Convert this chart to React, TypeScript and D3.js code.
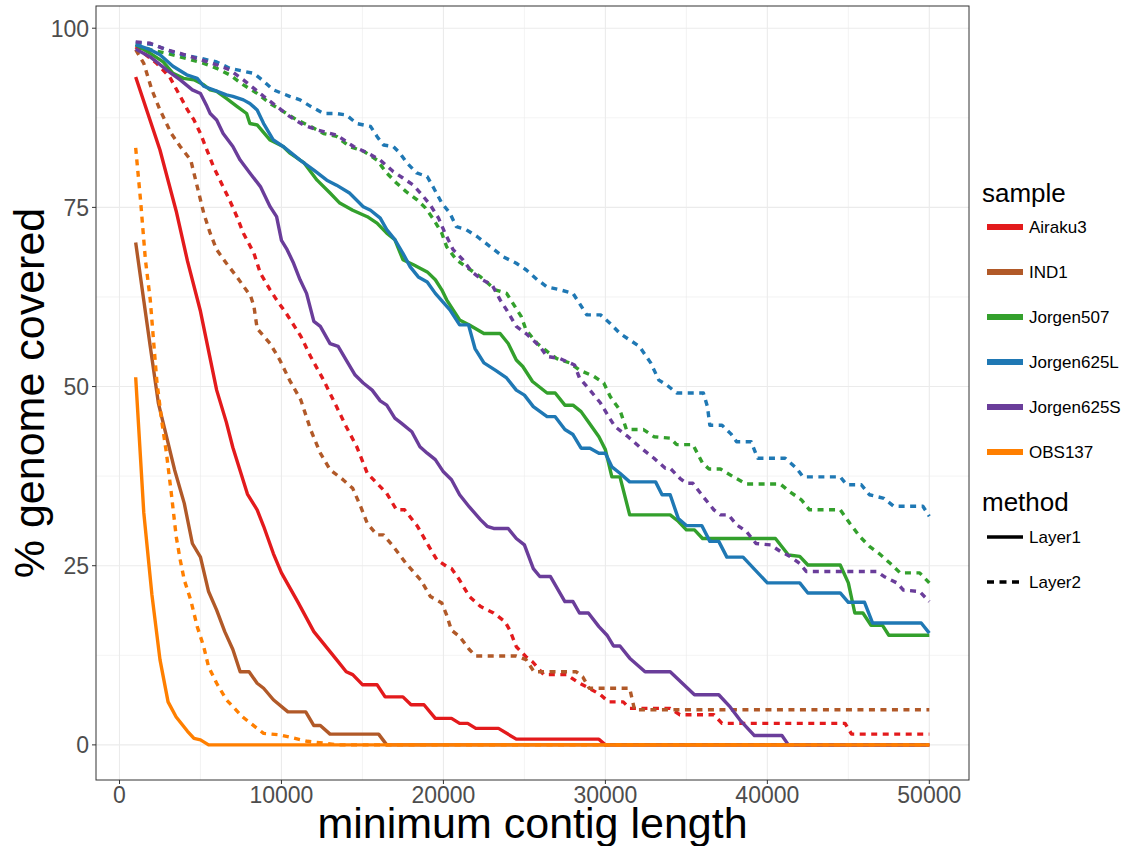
import * as React from "react";
import * as d3 from "d3";

// minimum contig length in kb, % genome covered
const airaku3Layer1 = [[1,93.2],[2.5,83],[3.5,74.5],[4.2,67.5],[5,60.5],[6,49.5],[6.6,45],[7,41.5],[7.9,35],[8.5,32.8],[8.9,30.5],[9.5,26.7],[10,24],[11,20],[12,15.8],[12.5,14.4],[13.4,11.9],[14,10.2],[14.4,9.8],[15,8.4],[15.9,8.4],[16.4,6.7],[17.5,6.7],[18,5.6],[18.8,5.6],[19.5,3.7],[20.5,3.7],[21,3],[21.5,3],[22,2.3],[23.4,2.3],[24.5,0.8],[29.6,0.8],[30,0],[50,0]];
const airaku3Layer2 = [[1,97.4],[2.3,95.1],[3.1,93.2],[3.75,90.5],[4.2,88.6],[4.6,87.2],[5,85.3],[5.4,83],[5.8,80.7],[6.2,78.8],[6.8,76],[7.25,73.7],[7.65,71.4],[8.3,68.6],[8.7,65.8],[9.3,63.5],[9.7,62.1],[10.3,60.2],[11.2,57],[11.8,54.2],[12.6,50.9],[13.4,47.2],[14,44.4],[14.65,41.6],[15.3,37.9],[15.9,36.5],[16.5,35.1],[17.1,32.8],[17.6,32.8],[18.4,30.5],[19,28.1],[19.6,25.8],[20.2,24.9],[20.5,24.6],[21,23],[21.6,20.7],[22.3,19.3],[23.1,18.4],[23.8,17.2],[24.1,16],[24.5,13.7],[25.1,12.3],[25.5,11.6],[26.2,9.8],[27.6,9.8],[28.4,8.6],[29,7.9],[29.7,7],[30.2,6],[31.1,6],[31.5,5.1],[34,5.1],[34.6,4.2],[36.7,4.2],[37.2,3],[44.8,3],[45.2,1.5],[50,1.5]];
const ind1Layer1 = [[1,70.1],[1.5,62],[1.9,55.6],[2.4,47.7],[2.8,44],[3.4,38.4],[4,33.7],[4.5,28.1],[5,26.2],[5.5,21.4],[6,18.8],[6.5,15.8],[7,13.3],[7.45,10.2],[8,10.2],[8.5,8.6],[8.9,7.9],[9.5,6.3],[10.4,4.6],[11.5,4.6],[12,2.7],[12.4,2.7],[13,1.5],[16,1.5],[16.5,0],[50,0]];
const ind1Layer2 = [[1,97],[1.5,95.1],[2,91.4],[2.5,88.6],[3.2,85.3],[3.75,83.5],[4.4,81.6],[4.8,77.9],[5.2,74.2],[5.6,71.4],[6,69.1],[6.6,67.2],[7.25,65.3],[8.1,62.6],[8.3,61.2],[8.5,58.1],[9.3,56],[9.9,53.7],[10.5,50.9],[11.2,48.1],[11.8,44],[12.4,40.7],[13,38.4],[13.8,37],[14.4,35.8],[14.9,33.2],[15.3,30.9],[15.9,29.3],[16.3,29.3],[16.9,27.7],[17.7,25.3],[18.4,23.5],[18.6,23],[19.2,20.7],[19.9,19.8],[20.2,18.1],[20.5,16],[21,15.1],[21.6,13.3],[22,12.4],[24.5,12.4],[25.1,11.9],[25.6,10.2],[28.2,10.2],[28.6,9.5],[29,7.9],[31.5,7.9],[31.8,4.9],[50,4.9]];
const jorgen507Layer1 = [[1,97.7],[1.9,96.5],[2.7,95.3],[3.3,93.7],[3.95,93],[4.6,92.8],[5.2,92.1],[5.6,91.4],[6,91.2],[6.6,90.2],[7.25,89.1],[7.85,88.1],[8.05,86.7],[8.5,86.5],[9.3,84.4],[10.1,83.5],[10.5,82.6],[11.4,81.2],[12.2,78.8],[13,77],[13.6,75.6],[14.4,74.6],[15.3,73.7],[15.9,72.8],[16.5,71.4],[17,70.5],[17.5,67.7],[18.15,67],[19,66],[19.5,64.9],[19.9,63.5],[20.2,62.1],[21,59.3],[21.6,58.6],[22.5,57.4],[23.5,57.4],[24,56],[24.5,53.7],[24.9,52.8],[25.5,50.7],[26.4,49.1],[26.9,49.1],[27.5,47.4],[28,47.4],[28.5,46.5],[29,44.9],[29.6,43],[30,41.2],[30.4,37.4],[30.9,37.4],[31.5,32.1],[34,32.1],[34.5,31.2],[35,30],[35.5,30],[36,28.8],[40.5,28.8],[41.3,26.5],[42,26.3],[42.5,25.1],[44.5,25.1],[45,22.6],[45.4,18.4],[45.9,18.4],[46.4,16.7],[47.1,16.7],[47.5,15.3],[50,15.3]];
const jorgen507Layer2 = [[1,97.7],[1.9,97],[2.9,96.5],[4.4,95.6],[5.2,95.1],[6,94.4],[6.8,93.5],[7.65,92.1],[8.5,90.9],[9.3,89.5],[10.1,88.4],[10.95,87.2],[11.8,86.3],[12.6,85.3],[13.4,84.9],[14.2,83.5],[15.1,82.8],[15.9,81.6],[16.5,79.8],[17.1,78.4],[17.7,77.2],[18.4,76],[18.9,74.9],[19.4,73.3],[19.9,71.4],[20.2,69.5],[20.8,67.7],[21.4,66.7],[22.3,65.3],[23.2,63.5],[23.9,63],[24.8,59.8],[25.1,57.9],[25.8,56],[26.4,54.9],[27,53.9],[27.8,53.3],[28.4,52.3],[29.3,51.4],[29.9,50.5],[30.3,48.6],[30.9,46.7],[31.3,44],[32.35,44],[33,43],[34,42.8],[34.4,41.9],[35.4,41.9],[36,39.3],[36.4,38.5],[37.1,38.5],[37.9,37.4],[38.7,36.4],[40.8,36.4],[41.4,35.3],[42.1,34.2],[42.6,32.8],[44.5,32.8],[45.1,30.9],[45.7,29.1],[46.3,27.7],[46.9,26.7],[47.6,25.3],[48.2,24],[49.4,24],[50,22.6]];
const jorgen625LLayer1 = [[1,97.7],[1.9,97],[2.5,96.3],[3.3,94.7],[4.15,93.5],[4.8,93],[5.2,91.9],[5.8,91.4],[6.6,90.7],[7,90.5],[7.65,90],[8.05,89.5],[8.5,88.6],[8.9,86.7],[9.5,84.4],[10.1,83.5],[10.5,82.8],[11.15,81.6],[12,80.2],[12.8,78.8],[13.4,78.1],[14.2,77],[15.05,75.1],[15.5,74.6],[16.1,73.5],[16.5,71.9],[17,70.5],[17.5,68.6],[17.95,66.7],[18.45,65.3],[19,64.6],[19.5,63],[20.4,60.7],[21,58.6],[21.55,58.6],[21.95,55.3],[22.5,53.3],[23.2,52.3],[23.9,51.2],[24.5,49.5],[25,48.8],[25.55,47.2],[26.4,45.8],[26.9,45.8],[27.5,44],[28,43.3],[28.5,41.4],[29.05,41.4],[29.6,40.7],[30,40.7],[30.4,38.8],[30.9,37.9],[31.5,36.7],[33.1,36.7],[33.5,34.9],[34,34.9],[34.5,31.6],[35,30.6],[35.95,30.6],[36.45,28.4],[37,28.4],[37.5,26.2],[38.5,26.2],[40,22.6],[42,22.6],[42.5,21.2],[44.5,21.2],[45,19.9],[46,19.9],[46.5,17],[49.5,17],[50,15.6]];
const jorgen625LLayer2 = [[1,98],[2.1,97.7],[3.5,96.5],[5,95.8],[6,95.3],[6.8,94.4],[7.65,94],[8.3,93.7],[8.9,92.6],[9.5,91.4],[10.5,90.5],[11.15,90],[11.8,89.1],[12.6,88.1],[13.4,88.1],[14,87.9],[14.65,86.7],[15.5,86.3],[15.9,84.9],[16.3,83.7],[16.9,83.5],[17.3,82.6],[17.75,81.2],[18.35,79.8],[19,79.3],[19.4,77.7],[19.9,75.6],[20.4,74.2],[20.8,72.3],[21.4,71.9],[22.1,70.9],[22.9,69.5],[23.7,68.1],[24.5,67.2],[25.1,66.3],[25.8,64.9],[26.4,63.9],[27.2,63.5],[28,63],[28.4,61.6],[28.85,60],[29.7,60],[30.3,58.8],[30.9,57.4],[31.5,56.5],[32.1,55.6],[32.8,53.3],[33.3,50.9],[33.8,50.2],[34.4,49.1],[36.05,49.1],[36.3,47.2],[36.45,44.6],[37.2,44.6],[37.75,43.4],[38.1,42.3],[39,42.3],[39.4,40],[41.1,40],[41.8,38.6],[42.2,37.4],[44.5,37.4],[44.9,36.3],[45.8,36.3],[46.3,34.9],[47.2,34.4],[47.8,33.3],[49.6,33.3],[50,31.9]];
const jorgen625SLayer1 = [[1,97.1],[1.9,96],[2.9,94.2],[3.75,92.8],[4.5,91.4],[5,90.9],[5.4,89.1],[5.6,88.1],[6,87.2],[6.4,85.3],[7,83.5],[7.45,81.6],[8.05,79.8],[8.7,77.9],[9.3,75.1],[9.7,73.7],[10,70.4],[10.35,69.1],[10.75,67.2],[11.15,64.9],[11.55,63],[12,59.1],[12.4,58.4],[13,56],[13.5,55.6],[14,53.7],[14.55,51.6],[15.05,50.5],[15.6,49.5],[16.1,48],[16.5,47.4],[17,45.6],[17.4,44.9],[18.05,43.7],[18.55,41.6],[19,40.7],[19.5,39.8],[20,38.1],[20.5,37],[21,34.9],[21.6,33.2],[22.3,31.4],[22.7,30.5],[23.1,30.2],[24,30.2],[24.5,28.8],[25,27.9],[25.55,24.6],[25.95,23.5],[26.6,23.5],[27.5,20],[28,20],[28.4,18.4],[28.95,18.4],[29.6,16.5],[30.1,15.3],[30.5,13.8],[30.9,13.8],[31.5,12.1],[32.45,10.2],[34,10.2],[35.5,7],[37,7],[37.7,5.3],[38.3,3.5],[39.2,1.3],[40.9,1.3],[41.3,0],[50,0]];
const jorgen625SLayer2 = [[1,98.1],[1.9,97.9],[2.9,97],[3.75,96.5],[5,95.6],[6,94.9],[6.8,94.2],[7.65,92.8],[8.3,91.6],[8.9,90.5],[9.7,89.1],[10.5,87.7],[11.35,86.5],[12.2,85.8],[13.4,85.1],[14.45,83.5],[15.3,82.6],[16.1,81.6],[16.9,80],[17.5,79.1],[18.15,78.1],[18.7,76.7],[19.2,75.3],[19.7,73.5],[20.1,71.4],[20.6,69.1],[21.2,67.7],[21.75,66],[22.4,64.9],[23,64.2],[23.5,62.1],[23.9,60.7],[24.5,58.4],[25.1,57.4],[25.95,55.6],[26.4,54.2],[27.2,53.9],[28.1,53],[28.4,51.2],[29.05,49.5],[29.7,47.7],[30.2,45.8],[30.6,44.4],[31.4,43],[32.1,41.6],[33,40],[33.7,38.6],[34,38.6],[34.6,37.2],[35,36.5],[35.4,36.5],[36.05,34.6],[36.7,32.8],[37.1,32.1],[37.6,32.1],[38.1,30.7],[38.7,29.8],[39.3,28.1],[40.2,27.9],[40.8,27],[41.4,26.3],[42,25.3],[42.4,24.2],[46.75,24.2],[47.2,23.5],[48,22.6],[48.4,21.6],[49.4,21.4],[50,20]];
const obs137Layer1 = [[1,51.3],[1.5,32.4],[2,21],[2.5,11.9],[3,6],[3.5,3.9],[4.2,1.9],[4.6,0.9],[5,0.7],[5.5,0],[50,0]];
const obs137Layer2 = [[1,83.3],[1.3,76],[1.6,67.7],[1.9,62.1],[2.1,56.5],[2.3,50.9],[2.6,45.3],[2.9,40.7],[3.2,35.1],[3.5,29.1],[3.75,25.8],[4,23],[4.4,20.2],[4.8,16.5],[5.2,13.7],[5.5,10.9],[6,8.6],[6.6,6.3],[7.6,3.9],[8.9,1.6],[9.9,1.4],[11.6,0.5],[12.6,0.24],[13.5,0],[50,0]];

const samples = ["Airaku3", "IND1", "Jorgen507", "Jorgen625L", "Jorgen625S", "OBS137"];
const sampleColors = ["#E31A1C", "#B15928", "#33A02C", "#1F78B4", "#6A3D9A", "#FF7F00"];
const methods = ["Layer1", "Layer2"];
const xTicks = [0, 10000, 20000, 30000, 40000, 50000];
const yTicks = [0, 25, 50, 75, 100];

const seriesData: number[][][][] = [
  [airaku3Layer1, airaku3Layer2],
  [ind1Layer1, ind1Layer2],
  [jorgen507Layer1, jorgen507Layer2],
  [jorgen625LLayer1, jorgen625LLayer2],
  [jorgen625SLayer1, jorgen625SLayer2],
  [obs137Layer1, obs137Layer2],
];

const font = "'Liberation Sans', Arial, sans-serif";
const dash = "6,5.5";

export default function App() {
  const left = 96, right = 969, top = 6, bottom = 780;
  const x = d3.scaleLinear().domain([-1450, 52450]).range([left, right]);
  const y = d3.scaleLinear().domain([-4.9, 103.1]).range([bottom, top]);

  const line = d3.line<number[]>()
    .x(d => x(d[0] * 1000))
    .y(d => y(d[1]));

  const xMinor = d3.range(5000, 50000, 10000);
  const yMinor = [12.5, 37.5, 62.5, 87.5];

  return (
    <svg width={1127} height={846} style={{ position: "absolute", left: 0, top: 0, fontFamily: font }}>
      <rect x={0} y={0} width={1127} height={846} fill="#fff" />
      {/* grid */}
      {xMinor.map(v => <line key={"xm" + v} x1={x(v)} x2={x(v)} y1={top} y2={bottom} stroke="#EBEBEB" strokeWidth={0.6} />)}
      {yMinor.map(v => <line key={"ym" + v} x1={left} x2={right} y1={y(v)} y2={y(v)} stroke="#EBEBEB" strokeWidth={0.6} />)}
      {xTicks.map(v => <line key={"xg" + v} x1={x(v)} x2={x(v)} y1={top} y2={bottom} stroke="#EBEBEB" strokeWidth={1.1} />)}
      {yTicks.map(v => <line key={"yg" + v} x1={left} x2={right} y1={y(v)} y2={y(v)} stroke="#EBEBEB" strokeWidth={1.1} />)}

      {seriesData.map((pair, i) => pair.map((d, j) => (
        <path key={samples[i] + methods[j]} d={line(d) || ""} fill="none"
          stroke={sampleColors[i]} strokeWidth={3.4} strokeLinejoin="round"
          strokeDasharray={j === 1 ? dash : undefined} />
      )))}

      <rect x={left} y={top} width={right - left} height={bottom - top} fill="none" stroke="#333333" strokeWidth={1} />

      {/* axes */}
      {xTicks.map(v => (
        <g key={"xt" + v}>
          <line x1={x(v)} x2={x(v)} y1={bottom} y2={bottom + 4} stroke="#333333" strokeWidth={1} />
          <text x={x(v)} y={803} textAnchor="middle" fontSize={23} fill="#4D4D4D">{v}</text>
        </g>
      ))}
      {yTicks.map(v => (
        <g key={"yt" + v}>
          <line x1={left - 4} x2={left} y1={y(v)} y2={y(v)} stroke="#333333" strokeWidth={1} />
          <text x={89} y={y(v) + 8.3} textAnchor="end" fontSize={23} fill="#4D4D4D">{v}</text>
        </g>
      ))}
      <text x={(left + right) / 2} y={838} textAnchor="middle" fontSize={43} fill="#000">minimum contig length</text>
      <text transform={`translate(44,${(top + bottom) / 2}) rotate(-90)`} textAnchor="middle" fontSize={43} fill="#000">% genome covered</text>

      {/* legend */}
      <text x={982} y={202} fontSize={26} fill="#000">sample</text>
      {samples.map((s, i) => (
        <g key={"lg" + s} transform={`translate(0,${227 + i * 45})`}>
          <line x1={987} x2={1023} y1={0} y2={0} stroke={sampleColors[i]} strokeWidth={6} />
          <text x={1029} y={6} fontSize={17} fill="#000">{s}</text>
        </g>
      ))}
      <text x={982} y={511} fontSize={26} fill="#000">method</text>
      {methods.map((m, i) => (
        <g key={"lm" + m} transform={`translate(0,${537 + i * 45})`}>
          <line x1={987} x2={1023} y1={0} y2={0} stroke="#000" strokeWidth={3.4}
            strokeDasharray={i === 1 ? "7,5.5" : undefined} />
          <text x={1029} y={6} fontSize={17} fill="#000">{m}</text>
        </g>
      ))}
    </svg>
  );
}
